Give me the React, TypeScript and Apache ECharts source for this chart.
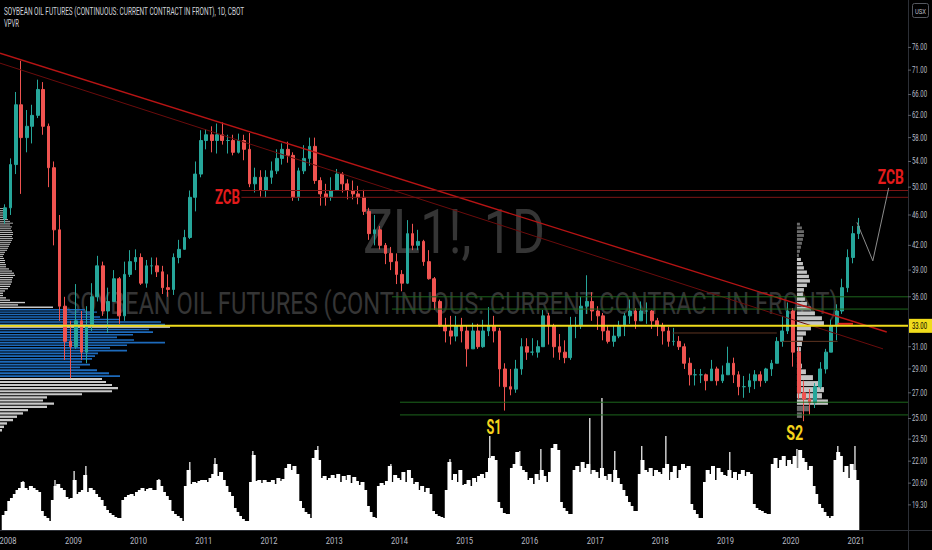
import React, { useEffect, useRef } from "react";
import * as echarts from "echarts";

// ---------- axis frame ----------
const AXIS_START = "2007-11-17";
const AXIS_END = "2021-10-19";
const PRICE_MIN = 17.9;
const PRICE_MAX = 87.6;
const VOLUME_MAX = 530;

// ---------- monthly candles (Dec 2007 .. Jan 2021) ----------
const FIRST_YEAR = 2007;
const FIRST_MONTH = 11; // December (0-based)
const OPEN = [
  45.5,
  47, 53.5, 64, 58, 60, 62, 67, 60, 53, 44, 35, 31.5,
  31, 33.5, 30.5, 33, 36, 39.5, 34.5, 35.5, 38, 34, 38.5, 40,
  40.5, 37.5, 39.5, 39.5, 38.8, 37, 36.8, 40.5, 41.5, 43, 48.5, 52,
  57.5, 58.5, 57.5, 58.5, 57.5, 57.5, 55.5, 57.5, 56, 50.5, 51.5, 49.5,
  51.5, 52.5, 54.5, 56, 55, 48.5, 52.5, 54.5, 56.5, 51, 49, 48.5,
  49.5, 52, 50.5, 49.5, 49, 48.5, 46.5, 43.5, 44, 42, 41, 40,
  38.5, 37.5, 43.5, 42, 42.5, 40, 38, 35.5, 33, 32.5, 32, 33,
  32.5, 30.8, 32.5, 31, 32.5, 33, 32.5, 29, 27.5, 27.3, 29, 31,
  30.5, 30.5, 31, 34, 33, 31, 30.5, 30, 33, 33, 35, 35.5,
  34.5, 34, 32.5, 31.5, 32, 33, 34, 34.5, 33.5, 34.5, 34.5, 33.5,
  33, 32.5, 31.5, 31.5, 31, 29.5, 28.5, 28.5, 28.5, 28, 29, 28,
  28.5, 29.5, 28.5, 27.5, 27.5, 28, 28.5, 28, 29, 29.5, 31.5, 32.5,
  34.5, 30.5, 27, 26.5, 26.2, 27.5, 29, 30.5, 33, 34.5, 37, 40.5,
  43.5,
];
const CLOSE = [
  47,
  53.5, 64, 58, 60, 62, 67, 60, 53, 44, 35, 31.5, 31,
  33.5, 30.5, 33, 36, 39.5, 34.5, 35.5, 38, 34, 38.5, 40, 40.5,
  37.5, 39.5, 39.5, 38.8, 37, 36.8, 40.5, 41.5, 43, 48.5, 52, 57.5,
  58.5, 57.5, 58.5, 57.5, 57.5, 55.5, 57.5, 56, 50.5, 51.5, 49.5, 51.5,
  52.5, 54.5, 56, 55, 48.5, 52.5, 54.5, 56.5, 51, 49, 48.5, 49.5,
  52, 50.5, 49.5, 49, 48.5, 46.5, 43.5, 44, 42, 41, 40, 38.5,
  37.5, 43.5, 42, 42.5, 40, 38, 35.5, 33, 32.5, 32, 33, 32.5,
  30.8, 32.5, 31, 32.5, 33, 32.5, 29, 27.5, 27.3, 29, 31, 30.5,
  30.5, 31, 34, 33, 31, 30.5, 30, 33, 33, 35, 35.5, 34.5,
  34, 32.5, 31.5, 32, 33, 34, 34.5, 33.5, 34.5, 34.5, 33.5, 33,
  32.5, 31.5, 31.5, 31, 29.5, 28.5, 28.5, 28.5, 28, 29, 28, 28.5,
  29.5, 28.5, 27.5, 27.5, 28, 28.5, 28, 29, 29.5, 31.5, 32.5, 34.5,
  30.5, 27, 26.5, 26.2, 27.5, 29, 30.5, 33, 34.5, 37, 40.5, 43.5,
  44.5,
];
const LOW = [
  44.8,
  46, 52, 49, 55.5, 57, 61.5, 58.5, 50, 42, 33.5, 29.8, 28.2,
  30.8, 29.8, 29.5, 32.5, 35.5, 34, 32.3, 35.5, 33.2, 33.5, 38.2, 39,
  37.3, 37, 38.5, 38.2, 36.3, 36, 36.2, 39.8, 41.5, 42.8, 46.5, 51.5,
  56, 55.5, 55.3, 56.8, 55.3, 55, 55.3, 54.2, 50, 49.2, 48.6, 48.5,
  50.5, 52, 53.5, 53.8, 48, 48, 52, 53.3, 50.5, 47.3, 47.3, 48,
  49.5, 49.2, 48.2, 48.2, 47.5, 46, 42.7, 42, 41.5, 39.7, 39, 37.4,
  36.6, 37.4, 41.4, 41.4, 39.5, 37.9, 34.6, 32.9, 31.4, 31.2, 31.5, 31.4,
  29.2, 30.8, 30.8, 30.9, 32, 31.4, 27.5, 25.6, 26.8, 27, 28.5, 29.8,
  30.2, 30, 31, 31.2, 30, 29.8, 29.5, 29.8, 31.8, 32.7, 34.2, 33.5,
  32.6, 31.6, 31.3, 31, 31.8, 32, 33.2, 32.7, 33.5, 33.2, 32.7, 32,
  31.2, 31, 31.1, 30.7, 29, 27.6, 27.6, 27.8, 27.2, 28, 27.6, 27.8,
  28.5, 27.8, 26.8, 26.6, 27, 27.3, 27.5, 27.8, 28.4, 29.5, 31, 32.2,
  29.2, 26.5, 24.8, 25.3, 25.8, 27.3, 28.6, 30.5, 31.6, 34.2, 36.5, 39.8,
  42.8,
];
const HIGH = [
  47.5,
  54.5, 66.5, 73, 63, 64, 69, 68.5, 60.5, 54, 46, 36, 33.5,
  37.4, 34.5, 35, 37.5, 40.7, 40, 37, 39, 38.2, 40, 41.4, 41.5,
  41, 40.2, 40.5, 40.5, 39.5, 38.5, 41, 42.7, 44, 49.5, 54, 59.3,
  59.5, 60, 60.5, 60.7, 58.5, 58.5, 58.7, 58.5, 58.8, 53, 52.6, 52.6,
  54, 56, 57, 57.3, 55.5, 53, 56.7, 58, 58, 51.5, 50.5, 51.5,
  52.8, 52.3, 51.2, 51, 50.2, 49.6, 47, 46, 44.5, 42.3, 41.8, 41,
  39, 45.3, 44.8, 44, 42.7, 41.4, 38.2, 35.7, 33.8, 34, 34, 33.8,
  33, 33.3, 33.2, 33.6, 34.9, 34, 32.8, 29.5, 29, 29.8, 31.8, 31.8,
  31.8, 31.6, 34.6, 34.3, 33.2, 32.2, 31.6, 33.9, 33.9, 36, 38.4, 36.5,
  35, 34.3, 33, 33, 33.5, 34.3, 35.7, 34.8, 35.5, 35.4, 34.6, 33.8,
  33.3, 32.9, 32.8, 32, 31.3, 30, 29, 29, 28.6, 29.8, 29.2, 29.3,
  31, 30, 28.8, 28.4, 28.6, 28.9, 28.8, 29.1, 29.8, 31.9, 34, 35.4,
  34.8, 31, 28, 27.3, 27.8, 29.6, 30.8, 33.6, 35.2, 38, 41.5, 44.5,
  45.6,
];

// ---------- volume, two readings per month (Dec 2007 .. Jan 2021) ----------
const VOLUME = [
  15, 19,
  29, 32, 36, 40, 42, 48, 42, 40, 44, 42, 40, 38, 19, 14, 12, 9, 30, 44, 46, 42, 40, 33, 31, 32,
  50, 36, 38, 40, 55, 38, 42, 40, 36, 33, 30, 24, 20, 17, 15, 13, 12, 12, 30, 33, 35, 36, 34, 38,
  40, 42, 39, 41, 42, 40, 40, 50, 44, 38, 34, 30, 19, 16, 14, 12, 9, 44, 60, 46, 48, 47, 49, 50,
  50, 48, 52, 56, 66, 54, 58, 50, 44, 38, 34, 22, 18, 14, 11, 9, 9, 48, 75, 49, 50, 47, 50, 48,
  48, 50, 46, 52, 49, 51, 62, 66, 60, 64, 56, 29, 22, 18, 16, 12, 72, 80, 70, 52, 54, 50, 52, 55,
  52, 56, 48, 54, 50, 55, 47, 53, 49, 45, 48, 40, 24, 18, 13, 12, 44, 47, 45, 49, 64, 48, 55, 52,
  50, 58, 48, 60, 52, 46, 48, 40, 44, 38, 42, 36, 19, 16, 14, 13, 12, 40, 68, 50, 56, 48, 60, 45,
  46, 50, 44, 52, 48, 54, 56, 52, 58, 72, 74, 70, 28, 22, 17, 16, 16, 62, 66, 78, 64, 60, 58, 50,
  52, 46, 56, 50, 60, 54, 48, 58, 82, 86, 80, 28, 22, 19, 16, 16, 60, 64, 58, 68, 62, 66, 56, 60,
  58, 52, 62, 54, 50, 56, 48, 60, 52, 46, 40, 34, 28, 24, 19, 19, 56, 70, 60, 58, 62, 54, 60, 58,
  56, 62, 66, 50, 58, 64, 52, 60, 66, 62, 64, 26, 20, 16, 12, 12, 48, 60, 56, 64, 50, 62, 58, 55,
  54, 60, 52, 58, 50, 56, 60, 54, 58, 56, 26, 22, 20, 19, 17, 16, 16, 66, 72, 62, 70, 74, 64, 70,
  66, 74, 62, 80, 72, 68, 60, 64, 44, 36, 26, 22, 18, 14, 12, 14, 70, 78, 74, 58, 64, 52, 66, 60,
  50,
];
const SPIKE_DATES = [
  "2008-03-25", "2008-09-20", "2009-01-05", "2009-03-12", "2010-04-25", "2010-10-15",
  "2011-03-05", "2011-10-03", "2012-10-01", "2013-11-14", "2014-10-11", "2015-05-22",
  "2015-11-06", "2016-03-03", "2016-12-02", "2017-02-08", "2017-04-21", "2017-09-19",
  "2018-02-01", "2019-01-25", "2020-02-05", "2020-09-21", "2020-12-26",
];
const SPIKE_VOLUMES = [49, 50, 59, 64, 51, 68, 72, 79, 84, 66, 71, 94, 79, 81, 112, 132, 79, 84, 94, 78, 81, 84, 84];

// ---------- visible-range volume profile (left), rows of 0.25 from 47.00 down ----------
const VP_LEFT_TOP = 47;
const VP_LEFT_ROW = 0.25;
const VP_LEFT = [
  4, 6, 5, 3, 4, 6, 8, 10, 13, 10, 12, 11, 12, 13, 13, 12,
  13, 12, 11, 10, 9, 8, 7, 5, 4, 3, 4, 5, 5, 6, 6, 9,
  12, 14, 15, 13, 12, 12, 11, 10, 8, 5, 3, 3, 6, 10, 25, 18,
  53, 85, 97, 90, 100, 120, 161, 165, 170, 149, 153, 133, 117, 134, 165, 127,
  110, 127, 98, 95, 92, 82, 90, 80, 97, 109, 120, 102, 106, 112, 118, 112,
  82, 47, 43, 54, 47, 28, 23, 17, 13, 7, 4, 2,
];
const VP_LEFT_VA = [28.25, 34.75];
const VP_LEFT_POC = [32.75, 33.0];

// ---------- fixed-range volume profile (2020), rows of 0.5 from 45.00 down ----------
const VP_RIGHT_START = "2020-02-05";
const VP_RIGHT_TOP = 45;
const VP_RIGHT_ROW = 0.5;
const VP_RIGHT = [
  3, 5, 7, 7, 6, 5, 4, 3, 2, 4, 6, 7, 10, 12, 13, 10, 7, 6, 8, 10,
  14, 18, 25, 27, 14, 9, 6, 5, 4, 3, 3, 5, 9, 16, 24, 27, 25, 31, 12, 5,
];
const VP_RIGHT_VA = [26.0, 40.5];

// ---------- drawings ----------
const TREND_UPPER = [[AXIS_START, 74.7], ["2021-06-22", 32.4]];
const TREND_LOWER = [[AXIS_START, 72.5], ["2021-06-01", 30.8]];
const ZCB_START = "2011-07-31";
const ZCB_LEVELS = [49.5, 48.5];
const GREEN_UPPER_START = "2013-11-20";
const GREEN_UPPER = [36.0, 34.7];
const GREEN_LOWER_START = "2014-01-04";
const GREEN_LOWER = [26.25, 25.27];
const POC_LEVEL = 33.0;
const NAKED_POCS = [
  { from: "2018-03-10", to: "2019-10-15", price: 32.3 },
  { from: "2019-11-15", to: "2020-09-20", price: 31.5 },
];
const RED_SEGMENT = { from: "2020-09-20", to: "2020-12-15", price: 33.2 };
const PROJECTION = [["2021-01-06", 45.0], ["2021-04-05", 40.1], ["2021-07-03", 49.9]];
const ANNOTATIONS = [
  { text: "ZCB", date: "2011-05-14", price: 48.5, color: "#e31b1b", width: 25 },
  { text: "ZCB", date: "2021-07-15", price: 51.6, color: "#e31b1b", width: 26 },
  { text: "S1", date: "2015-06-14", price: 24.4, color: "#f5d31c", width: 15 },
  { text: "S2", date: "2020-01-24", price: 23.9, color: "#f5d31c", width: 17 },
];
const PRICE_TICKS = [76, 71, 66, 62, 58, 54, 50, 46, 42, 39, 36, 31, 29, 27, 25, 23.5, 22, 20.6, 19.3];
const YEARS = [2008, 2009, 2010, 2011, 2012, 2013, 2014, 2015, 2016, 2017, 2018, 2019, 2020, 2021];
const TITLE = "SOYBEAN OIL FUTURES (CONTINUOUS: CURRENT CONTRACT IN FRONT), 1D, CBOT";
const WATERMARK_SYMBOL = "ZL1!, 1D";
const WATERMARK_NAME = "SOYBEAN OIL FUTURES (CONTINUOUS: CURRENT CONTRACT IN FRONT)";

const FONT = "Roboto";

function ts(s: string): number {
  const [y, m, d] = s.split("-").map(Number);
  return new Date(y, m - 1, d).getTime();
}
function ymd(y: number, m0: number, d: number): number {
  return new Date(y, m0, d).getTime();
}

function lineSeries(points: any[], color: string, width: number, z = 5, type: any = "solid") {
  return {
    type: "line",
    data: points.map((p) => [ts(p[0]), p[1]]),
    symbol: "none",
    silent: true,
    z,
    lineStyle: { color, width, type },
    animation: false,
  };
}

function volumeRect(half: number) {
  return (params: any, api: any) => {
    const a = api.coord([api.value(0), api.value(1)]);
    const b = api.coord([api.value(0), 0]);
    return {
      type: "rect",
      shape: { x: a[0] - half, y: a[1], width: half * 2, height: b[1] - a[1] },
      style: { fill: "#ffffff" },
    };
  };
}

function buildOption(): any {
  const candles = OPEN.map((o, i) => {
    const mi = FIRST_MONTH + i;
    const y = FIRST_YEAR + Math.floor(mi / 12);
    return [ymd(y, mi % 12, 15), o, CLOSE[i], LOW[i], HIGH[i]];
  });
  const volume = VOLUME.map((v, i) => {
    const mi = FIRST_MONTH + Math.floor(i / 2);
    const y = FIRST_YEAR + Math.floor(mi / 12);
    return [ymd(y, mi % 12, i % 2 ? 23 : 8), v];
  });
  const spikes = SPIKE_DATES.map((d, i) => [ts(d), SPIKE_VOLUMES[i]]);

  const leftRows = VP_LEFT.map((v, i) => {
    const top = VP_LEFT_TOP - i * VP_LEFT_ROW;
    const bot = top - VP_LEFT_ROW;
    const mid = (top + bot) / 2;
    let kind = 0;
    if (mid > VP_LEFT_POC[0] && mid < VP_LEFT_POC[1]) kind = 2;
    else if (mid > VP_LEFT_VA[0] && mid < VP_LEFT_VA[1]) kind = 1;
    return [ts(AXIS_START), top, bot, v, kind];
  });
  const rightRows = VP_RIGHT.map((v, i) => {
    const top = VP_RIGHT_TOP - i * VP_RIGHT_ROW;
    const bot = top - VP_RIGHT_ROW;
    const mid = (top + bot) / 2;
    const kind = mid > VP_RIGHT_VA[0] && mid < VP_RIGHT_VA[1] ? 3 : 4;
    return [ts(VP_RIGHT_START), top, bot, v, kind];
  });
  const profileColors = ["#c9c9c9", "#1d6abb", "#e4e4e4", "#c4c4c4", "#6a6a6a"];
  const profileRender = (params: any, api: any) => {
    const t0 = api.value(0);
    const a = api.coord([t0, api.value(1)]);
    const b = api.coord([t0, api.value(2)]);
    const kind = api.value(4);
    return {
      type: "rect",
      shape: { x: a[0], y: a[1] + 0.4, width: api.value(3), height: Math.max(0.6, b[1] - a[1] - 1) },
      style: { fill: profileColors[kind] },
    };
  };

  const series: any[] = [
    {
      type: "custom",
      name: "vpvr-left",
      data: leftRows,
      dimensions: ["t", "top", "bot", "vol", "kind"],
      encode: { x: 0, y: [1, 2] },
      renderItem: profileRender,
      silent: true,
      z: 1,
    },
    {
      type: "custom",
      name: "vpvr-right",
      data: rightRows,
      dimensions: ["t", "top", "bot", "vol", "kind"],
      encode: { x: 0, y: [1, 2] },
      renderItem: profileRender,
      silent: true,
      z: 1,
    },
    {
      type: "custom",
      name: "volume",
      yAxisIndex: 1,
      data: volume,
      encode: { x: 0, y: 1 },
      renderItem: volumeRect(2.0),
      silent: true,
      z: 2,
    },
    {
      type: "custom",
      name: "volume-spikes",
      yAxisIndex: 1,
      data: spikes,
      encode: { x: 0, y: 1 },
      renderItem: volumeRect(0.6),
      silent: true,
      z: 2,
    },
    {
      type: "candlestick",
      name: "ZL1!",
      data: candles,
      encode: { x: 0, y: [1, 2, 3, 4] },
      barWidth: 3.2,
      itemStyle: {
        color: "#26a69a",
        color0: "#ef5350",
        borderColor: "#26a69a",
        borderColor0: "#ef5350",
        borderWidth: 1,
      },
      silent: true,
      z: 3,
    },
    lineSeries(TREND_LOWER, "#6a0c0c", 1, 5),
    lineSeries(TREND_UPPER, "#b71414", 1.4, 5),
    ...ZCB_LEVELS.map((p) => lineSeries([[ZCB_START, p], [AXIS_END, p]], "#7d1414", 1, 5)),
    ...GREEN_UPPER.map((p) => lineSeries([[GREEN_UPPER_START, p], [AXIS_END, p]], "#1d661d", 1, 5)),
    ...GREEN_LOWER.map((p) => lineSeries([[GREEN_LOWER_START, p], [AXIS_END, p]], "#1d661d", 1, 5)),
    ...NAKED_POCS.map((n) => lineSeries([[n.from, n.price], [n.to, n.price]], "#5e3521", 1, 5)),
    lineSeries([[RED_SEGMENT.from, RED_SEGMENT.price], [RED_SEGMENT.to, RED_SEGMENT.price]], "#e02020", 2, 6),
    lineSeries([[AXIS_START, POC_LEVEL], [AXIS_END, POC_LEVEL]], "#f0dc1c", 2, 6),
    lineSeries(PROJECTION, "#8c8c8c", 1, 6),
  ];

  return {
    animation: false,
    backgroundColor: "#000000",
    grid: { left: 0, right: 24, top: 0, bottom: 20, containLabel: false },
    xAxis: [
      {
        type: "time",
        min: ts(AXIS_START),
        max: ts(AXIS_END),
        axisLine: { show: false },
        axisTick: { show: false },
        axisLabel: { show: false },
        splitLine: { show: false },
      },
    ],
    yAxis: [
      {
        type: "log",
        min: PRICE_MIN,
        max: PRICE_MAX,
        position: "right",
        axisLine: { show: false },
        axisTick: { show: false },
        axisLabel: { show: false },
        splitLine: { show: false },
      },
      {
        type: "value",
        min: 0,
        max: VOLUME_MAX,
        show: false,
        splitLine: { show: false },
      },
    ],
    series,
  };
}

let measureCtx: CanvasRenderingContext2D | null = null;
function measure(text: string, size: number, weight: string | number = "normal"): number {
  if (!measureCtx) measureCtx = document.createElement("canvas").getContext("2d");
  measureCtx!.font = `${weight} ${size}px ${FONT}`;
  return measureCtx!.measureText(text).width || text.length * size * 0.6;
}

function fitText(text: string, x: number, y: number, width: number, size: number, color: string, align: string, weight: string | number = "normal", z = 50) {
  const sx = width / measure(text, size, weight);
  return {
    type: "text",
    x,
    y,
    scaleX: sx,
    z,
    silent: true,
    style: {
      text,
      fill: color,
      fontSize: size,
      fontFamily: FONT,
      fontWeight: weight,
      align,
      verticalAlign: "middle",
      textAlign: align,
      textVerticalAlign: "middle",
    },
  };
}

function buildGraphics(chart: any): any[] {
  const xy = (d: string, p: number) => chart.convertToPixel({ xAxisIndex: 0, yAxisIndex: 0 }, [ts(d), p]) as number[];
  const yOf = (p: number) => chart.convertToPixel({ yAxisIndex: 0 }, p) as number;
  const xOf = (d: string) => chart.convertToPixel({ xAxisIndex: 0 }, ts(d)) as number;
  const g: any[] = [];
  const axisColor = "#b9bcc4";
  const frame = "#2c2f36";

  // watermarks
  g.push(fitText(WATERMARK_SYMBOL, 454, 232, 182, 62, "#353535", "center", "normal", 0));
  g.push(fitText(WATERMARK_NAME, 452, 303, 773, 32, "#353535", "center", "normal", 0));

  // frame
  g.push({ type: "line", z: 40, silent: true, shape: { x1: 908.5, y1: 0, x2: 908.5, y2: 550 }, style: { stroke: frame, lineWidth: 1 } });
  g.push({ type: "line", z: 40, silent: true, shape: { x1: 0, y1: 530.5, x2: 932, y2: 530.5 }, style: { stroke: frame, lineWidth: 1 } });

  // header
  g.push(fitText(TITLE, 4, 11.5, 241, 10, "#cfd2d8", "left"));
  g.push(fitText("VPVR", 4, 23.5, 15, 10, "#cfd2d8", "left"));

  // currency box
  g.push({ type: "rect", z: 50, silent: true, shape: { x: 912.5, y: 3.5, width: 16, height: 14, r: 2 }, style: { fill: "#000", stroke: "#55585f", lineWidth: 1 } });
  g.push(fitText("USX", 920.5, 10.8, 11, 8, axisColor, "center"));

  // price axis labels
  const priceScale = 15 / measure("76.00", 9);
  PRICE_TICKS.forEach((p) => {
    const y = yOf(p);
    g.push({ type: "line", z: 50, silent: true, shape: { x1: 908, y1: y, x2: 911, y2: y }, style: { stroke: "#5d6068", lineWidth: 1 } });
    g.push({
      type: "text", x: 912, y, scaleX: priceScale, z: 50, silent: true,
      style: { text: p.toFixed(2), fill: axisColor, fontSize: 9, fontFamily: FONT, align: "left", verticalAlign: "middle", textAlign: "left", textVerticalAlign: "middle" },
    });
  });
  // current price tag
  const yPoc = yOf(POC_LEVEL);
  g.push({ type: "rect", z: 55, silent: true, shape: { x: 909, y: yPoc - 7, width: 23, height: 14 }, style: { fill: "#f0dc1c" } });
  g.push({
    type: "text", x: 912, y: yPoc, scaleX: priceScale, z: 56, silent: true,
    style: { text: POC_LEVEL.toFixed(2), fill: "#000000", fontSize: 9, fontFamily: FONT, align: "left", verticalAlign: "middle", textAlign: "left", textVerticalAlign: "middle" },
  });

  // date labels
  const yearScale = 17 / measure("2008", 9.5);
  YEARS.forEach((yr) => {
    const x = xOf(`${yr}-01-01`);
    g.push({
      type: "text", x, y: 541, scaleX: yearScale, z: 50, silent: true,
      style: { text: String(yr), fill: axisColor, fontSize: 9.5, fontFamily: FONT, align: "center", verticalAlign: "middle", textAlign: "center", textVerticalAlign: "middle" },
    });
  });

  // annotations
  ANNOTATIONS.forEach((a) => {
    const [x, y] = xy(a.date, a.price);
    g.push(fitText(a.text, x, y, a.width, 20, a.color, "center", "bold", 60));
  });

  return g;
}

export default function App() {
  const ref = useRef<HTMLDivElement>(null);
  useEffect(() => {
    document.body.style.margin = "0";
    document.body.style.background = "#000";
    const chart = echarts.init(ref.current!, null, { renderer: "svg" });
    chart.setOption(buildOption());
    chart.setOption({ graphic: { elements: buildGraphics(chart) } });
    return () => chart.dispose();
  }, []);
  return (
    <div
      ref={ref}
      style={{ position: "absolute", left: 0, top: 0, width: 932, height: 550, background: "#000" }}
    />
  );
}
